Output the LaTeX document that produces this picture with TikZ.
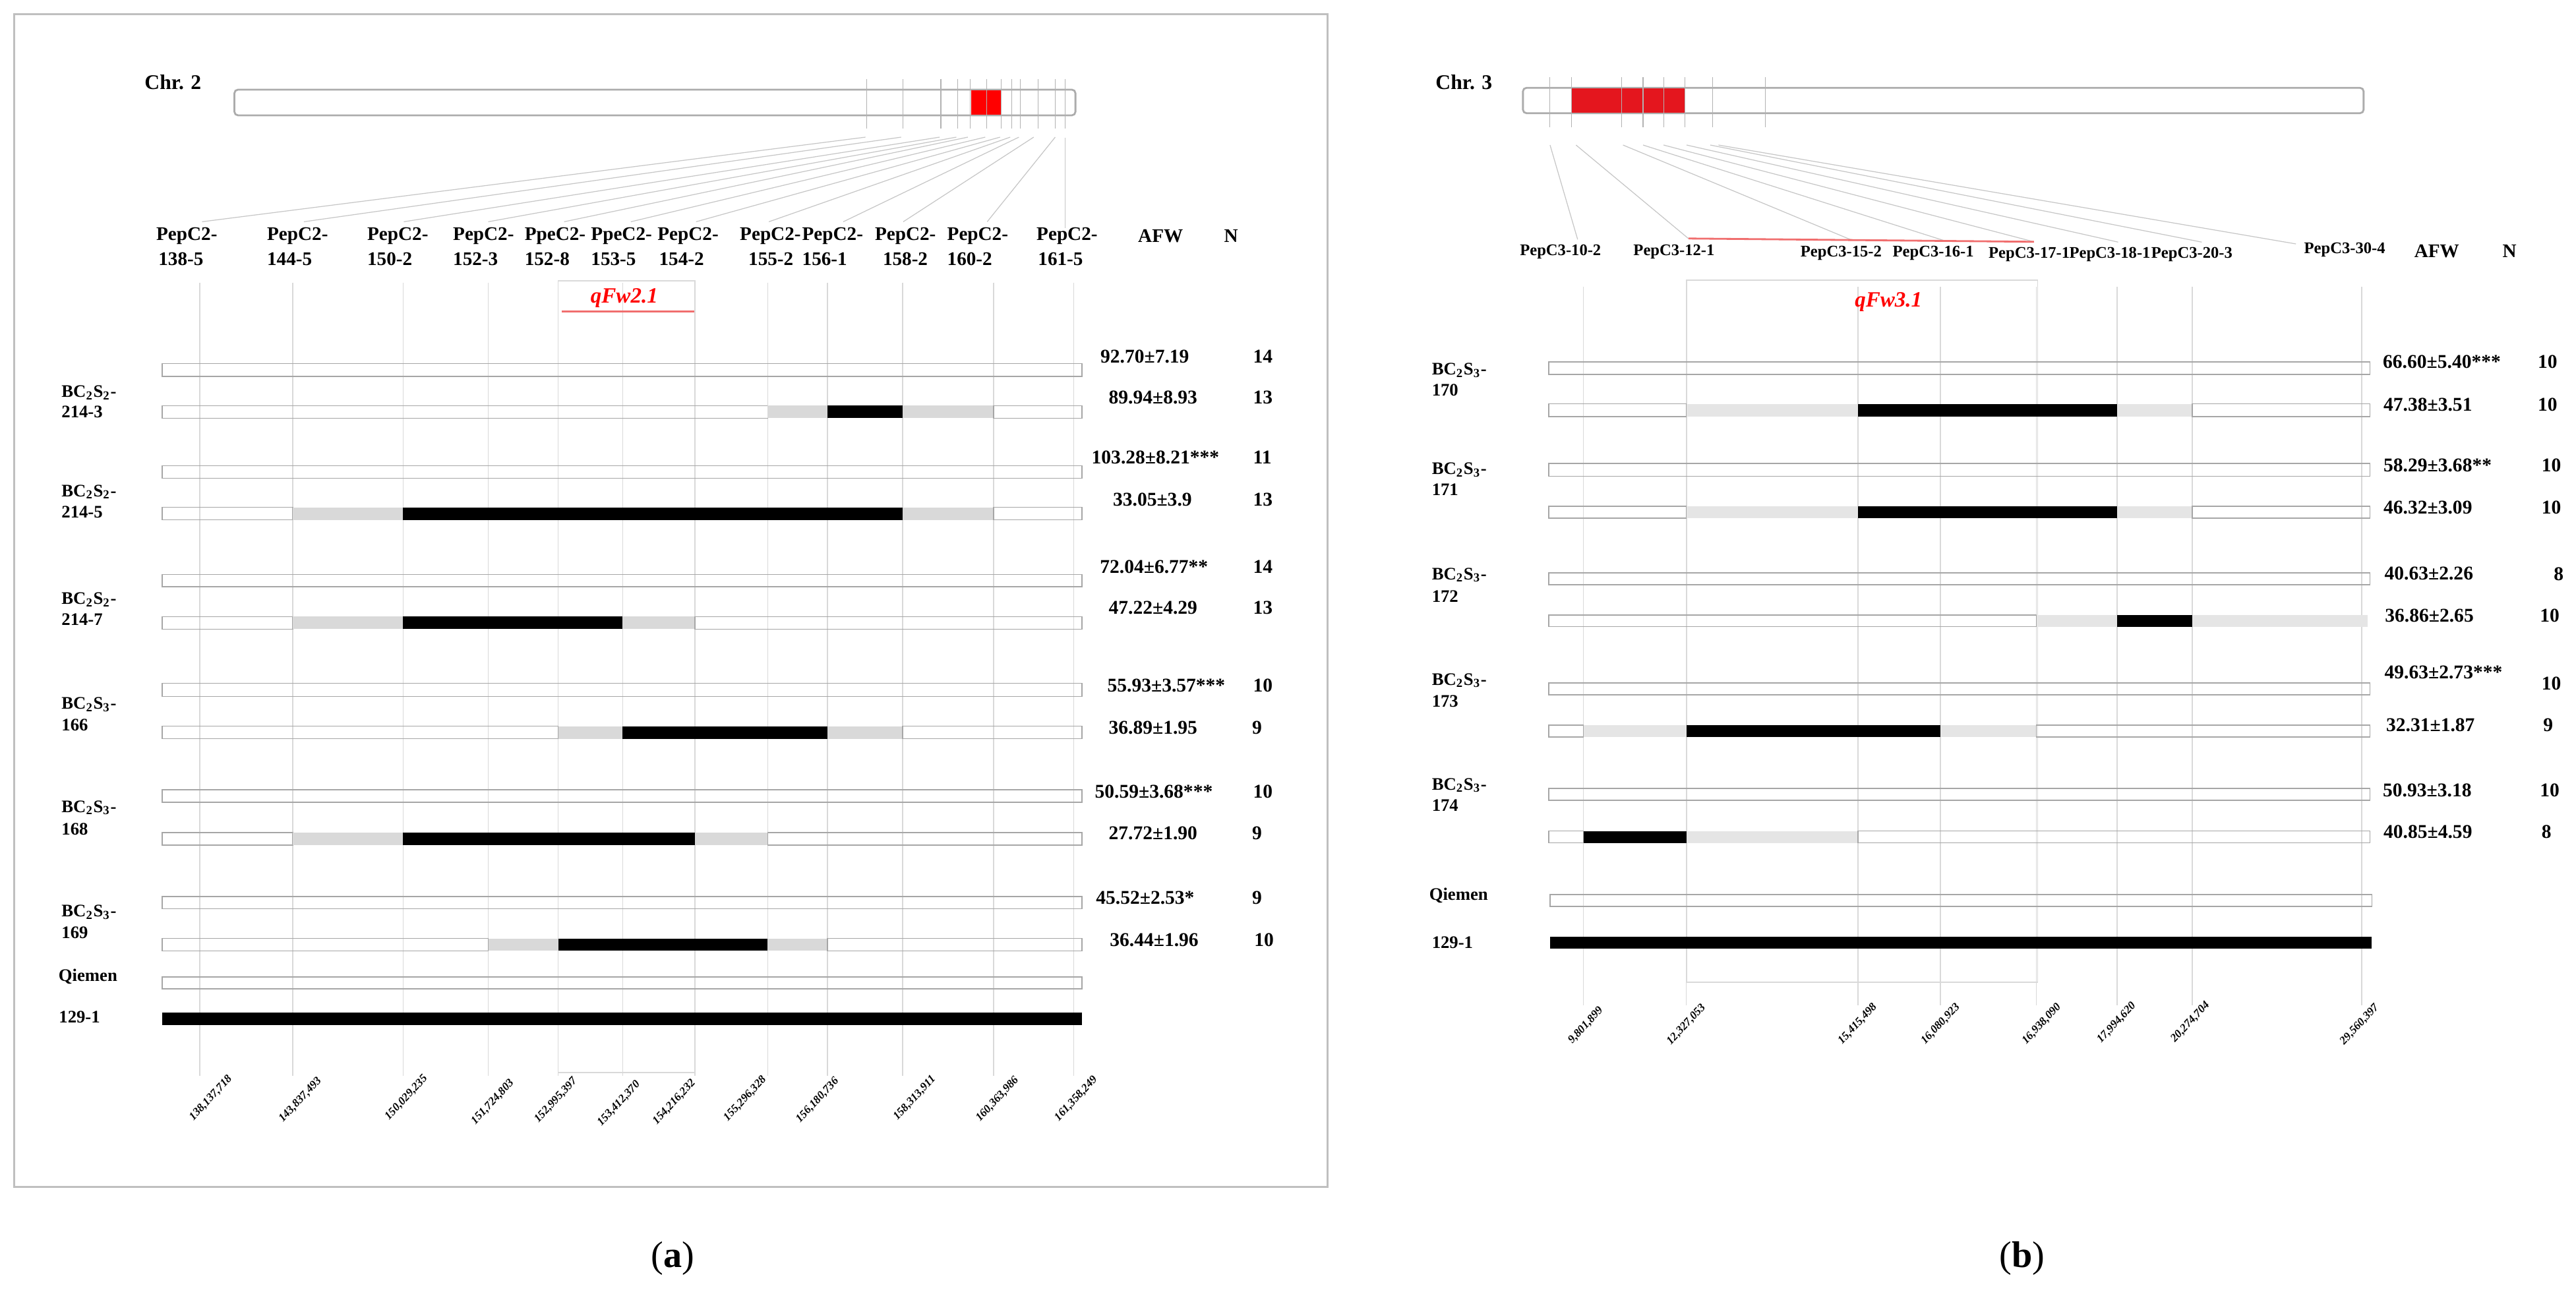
\documentclass[tikz,border=0pt]{standalone}
\usepackage{fontspec}
\setmainfont{Liberation Serif}
\definecolor{qred}{RGB}{240,110,110}
\definecolor{chrred}{RGB}{228,22,30}
\newcommand\segrow[3]{\foreach \xa/\xb/\st in {#3}{\path[\st] (\xa,#1) rectangle (\xb,#2);}}
\newcommand\bcA{BC\textsubscript{2}S\textsubscript{2}-}
\newcommand\bcB{BC\textsubscript{2}S\textsubscript{3}-}
\begin{document}
\begin{tikzpicture}[x=0.024917cm,y=-0.024917cm,
  txtA/.style={inner sep=0pt,anchor=west,font=\bfseries\fontsize{8.3}{10}\selectfont},
  txtB/.style={inner sep=0pt,anchor=west,font=\bfseries\fontsize{7}{8}\selectfont},
  lbl/.style={inner sep=0pt,anchor=west,font=\bfseries\fontsize{7.6}{9}\selectfont},
  val/.style={inner sep=0pt,anchor=west,font=\bfseries\fontsize{8.4}{10}\selectfont},
  posl/.style={inner sep=0pt,rotate=47,font=\bfseries\itshape\fontsize{4.9}{6}\selectfont},
  qtl/.style={inner sep=0pt,text=red,font=\bfseries\itshape\fontsize{9.4}{11}\selectfont},
  chrl/.style={inner sep=0pt,anchor=west,font=\bfseries\fontsize{9}{11}\selectfont},
  capl/.style={inner sep=0pt,font=\fontsize{16}{19}\selectfont},
  gline/.style={draw=gray!30,line width=0.45pt},
  conn/.style={draw=gray!45,line width=0.35pt},
  tickl/.style={draw=gray!60,line width=0.3pt},
  chrom/.style={draw=gray!65,line width=0.8pt,fill=white,rounded corners=1.5pt},
  segW/.style={draw=gray!70,line width=0.45pt},
  segG/.style={fill=gray!30},
  segH/.style={fill=gray!20},
  segK/.style={fill=black},
  qline/.style={draw=qred,line width=0.8pt},
]
\useasboundingbox (0,0) rectangle (1568,790);

% ---------------- panel (a) ----------------
\draw[gray!50,line width=0.8pt] (8.5,8.5) rectangle (808,722.5);

\foreach \x in {121.7,178.2,245.4,297.2,339.8,379.0,423.1,467.3,503.7,549.5,604.7,653.5}
  \draw[gline] (\x,172) -- (\x,655);
\draw[gline] (339.8,171) rectangle (423.1,653);

\node[chrl] (chra) at (87.8,50.2) {Chr. 2};
\draw[chrom] (142.7,54.6) rectangle (654.6,70.2);
\fill[red] (591.2,55) rectangle (609.6,69.8);
\foreach \x in {527.6,549.7,572.7,582.9,590.7,600.5,609.5,615.7,621.0,631.7,642.3,648.4}
  \draw[tickl] (\x,48) -- (\x,78.3);

\foreach \s/\e [count=\i] in {526.8/123,548.5/185,571.9/245.8,582.1/297.2,589.1/343.4,599.7/384,608.7/423.7,614.9/468,620.2/513.3,629.2/549.8,642.3/600.9}{
  \coordinate (sa\i) at (\s,83.5); \coordinate (ea\i) at (\e,135);
  \draw[conn] (sa\i) -- (ea\i);}
\coordinate (sa12) at (648.4,84); \coordinate (ea12) at (648.4,139);
\draw[conn] (sa12) -- (ea12);

\foreach \x/\t/\xx/\u [count=\i] in {94.9/PepC2-/96.2/138-5, 162.3/PepC2-/162.3/144-5, 223.3/PepC2-/223.3/150-2, 275.5/PepC2-/275.5/152-3, 319.1/PpeC2-/319.1/152-8, 359.5/PpeC2-/359.5/153-5, 400.0/PepC2-/400.9/154-2, 450.1/PepC2-/455.3/155-2, 488.0/PepC2-/488.0/156-1, 532.3/PepC2-/537.1/158-2, 576.3/PepC2-/576.3/160-2, 630.7/PepC2-/631.6/161-5}{
  \node[txtA] (ma\i) at (\x,143.8) {\t};
  \node[txtA] (mb\i) at (\xx,157.8) {\u};}
\node[txtA] (afwa) at (692.5,143.8) {AFW};
\node[txtA] (na) at (744.8,143.8) {N};

\coordinate (qa1) at (342,189.7); \coordinate (qa2) at (422.6,189.7);
\draw[qline] (qa1) -- (qa2);
\node[qtl] (qfa) at (380,181.3) {qFw2.1};

\segrow{221.4}{229.2}{98.7/658.5/segW}
\segrow{247.0}{254.6}{98.7/467.3/segW,467.3/503.7/segG,503.7/549.5/segK,549.5/604.7/segG,604.7/658.5/segW}
\segrow{283.6}{291.2}{98.7/658.5/segW}
\segrow{308.9}{316.5}{98.7/178.2/segW,178.2/245.4/segG,245.4/549.5/segK,549.5/604.7/segG,604.7/658.5/segW}
\segrow{349.7}{357.3}{98.7/658.5/segW}
\segrow{375.4}{383.0}{98.7/178.2/segW,178.2/245.4/segG,245.4/379.0/segK,379.0/423.1/segG,423.1/658.5/segW}
\segrow{415.9}{424.0}{98.7/658.5/segW}
\segrow{442.1}{449.7}{98.7/339.8/segW,339.8/379.0/segG,379.0/503.7/segK,503.7/549.5/segG,549.5/658.5/segW}
\segrow{480.9}{488.5}{98.7/658.5/segW}
\segrow{506.9}{514.4}{98.7/178.2/segW,178.2/245.4/segG,245.4/423.1/segK,423.1/467.3/segG,467.3/658.5/segW}
\segrow{545.7}{553.3}{98.7/658.5/segW}
\segrow{571.3}{578.9}{98.7/297.2/segW,297.2/339.8/segG,339.8/467.3/segK,467.3/503.7/segG,503.7/658.5/segW}
\segrow{594.7}{602.0}{98.7/658.5/segW}
\segrow{616.4}{624.0}{98.7/658.5/segK}

\node[lbl] (la1) at (37.2,239.1) {\bcA}; \node[lbl] (lb1) at (37.2,250.7) {214-3};
\node[lbl] (la2) at (37.2,299.5) {\bcA}; \node[lbl] (lb2) at (37.2,311.8) {214-5};
\node[lbl] (la3) at (37.2,365.0) {\bcA}; \node[lbl] (lb3) at (37.2,377.3) {214-7};
\node[lbl] (la4) at (37.2,428.9) {\bcB}; \node[lbl] (lb4) at (37.2,441.2) {166};
\node[lbl] (la5) at (37.2,491.8) {\bcB}; \node[lbl] (lb5) at (37.2,504.7) {168};
\node[lbl] (la6) at (37.2,555.4) {\bcB}; \node[lbl] (lb6) at (37.2,567.7) {169};
\node[lbl] (qma) at (35.4,594.4) {Qiemen};
\node[lbl] (pra) at (35.6,619.3) {129-1};

\foreach \x/\y/\v/\n/\nx [count=\i] in {669.6/217.0/92.70±7.19/14/762.5, 674.6/241.8/89.94±8.93/13/762.5, 664.2/278.4/103.28±8.21***/11/762.5, 677.2/304.0/33.05±3.9/13/762.5, 669.3/345.0/72.04±6.77**/14/762.5, 674.6/370.0/47.22±4.29/13/762.5, 673.8/417.4/55.93±3.57***/10/762.5, 674.6/443.0/36.89±1.95/9/761.9, 666.2/481.9/50.59±3.68***/10/762.5, 674.6/507.4/27.72±1.90/9/761.9, 666.9/546.6/45.52±2.53*/9/761.9, 675.3/572.2/36.44±1.96/10/763.2}{
  \node[val] (va\i) at (\x,\y) {\v};
  \node[val] (nva\i) at (\nx,\y) {\n};}

\foreach \x/\y/\t [count=\i] in {128.3/668.5/{138,137,718}, 182.8/669.6/{143,837,493}, 247.3/668.2/{150,029,235}, 299.9/670.9/{151,724,803}, 338.3/669.8/{152,995,397}, 376.7/671.8/{153,412,370}, 410.4/670.9/{154,216,232}, 453.5/668.9/{155,296,328}, 497.6/669.8/{156,180,736}, 556.7/668.5/{158,313,911}, 607.1/669.2/{160,363,986}, 655.0/668.9/{161,358,249}}
  \node[posl] (pa\i) at (\x,\y) {\t};

\node[capl] (capa) at (409.5,766) {(\textbf{a})};

% ---------------- panel (b) ----------------
\foreach \x in {963.8,1026.4,1130.9,1181.2,1239.5,1288.6,1334.4,1437.6}
  \draw[gline] (\x,174.6) -- (\x,612);
\draw[gline] (1026.7,170.6) rectangle (1240.3,598);

\node[chrl] (chrb) at (873.6,50.2) {Chr. 3};
\draw[chrom] (927.0,53.5) rectangle (1438.7,68.9);
\fill[chrred] (956.7,53.9) rectangle (1025.6,68.5);
\foreach \x in {943.5,956.7,987.2,1000.1,1012.6,1025.6,1042.4,1074.6}
  \draw[tickl] (\x,47.1) -- (\x,77.6);

\foreach \s/\e/\ey [count=\i] in {943.5/960.3/145.8, 959.3/1027.7/145.2, 987.9/1127/146.1, 1000.1/1183.5/146.5, 1012.6/1238/147.2, 1026.6/1289.3/147.4, 1041/1340.2/147.4, 1046/1397.5/148.5}{
  \coordinate (sb\i) at (\s,88.3); \coordinate (eb\i) at (\e,\ey);
  \draw[conn] (sb\i) -- (eb\i);}
\draw[qline] (eb2) -- (eb5);

\foreach \x/\y/\t [count=\i] in {924.9/153.2/PepC3-10-2, 994/153.2/PepC3-12-1, 1095.7/154/PepC3-15-2, 1151.8/154.3/PepC3-16-1, 1210.2/154.8/PepC3-17-1, 1259.3/155/PepC3-18-1, 1309.2/155/PepC3-20-3, 1402.2/152/PepC3-30-4}
  \node[txtB] (mc\i) at (\x,\y) {\t};
\node[txtA] (afwb) at (1469.3,153) {AFW};
\node[txtA] (nb) at (1523,153) {N};

\node[qtl] (qfb) at (1149.5,184) {qFw3.1};

\segrow{220.3}{228.0}{942.7/1442.6/segW}
\segrow{245.9}{253.6}{942.7/1026.4/segW,1026.4/1130.9/segH,1130.9/1288.6/segK,1288.6/1334.4/segH,1334.4/1442.6/segW}
\segrow{282.2}{289.9}{942.7/1442.6/segW}
\segrow{308.3}{315.5}{942.7/1026.4/segW,1026.4/1130.9/segH,1130.9/1288.6/segK,1288.6/1334.4/segH,1334.4/1442.6/segW}
\segrow{348.8}{356.0}{942.7/1442.6/segW}
\segrow{374.4}{381.5}{942.7/1239.5/segW,1239.5/1288.6/segH,1288.6/1334.4/segK,1334.4/1441.1/segH}
\segrow{415.8}{423.0}{942.7/1442.6/segW}
\segrow{441.4}{448.6}{942.7/963.8/segW,963.8/1026.4/segH,1026.4/1181.2/segK,1181.2/1239.5/segH,1239.5/1442.6/segW}
\segrow{480.1}{487.3}{942.7/1442.6/segW}
\segrow{505.9}{513.1}{942.7/963.8/segW,963.8/1026.4/segK,1026.4/1130.9/segH,1130.9/1442.6/segW}
\segrow{544.6}{551.8}{943.5/1443.7/segW}
\segrow{570.2}{577.4}{943.5/1443.7/segK}

\node[lbl] (lc1) at (871.3,225.4) {\bcB}; \node[lbl] (ld1) at (871.3,237.4) {170};
\node[lbl] (lc2) at (871.3,286.1) {\bcB}; \node[lbl] (ld2) at (871.3,298.1) {171};
\node[lbl] (lc3) at (871.3,350.0) {\bcB}; \node[lbl] (ld3) at (871.3,362.9) {172};
\node[lbl] (lc4) at (871.3,414.3) {\bcB}; \node[lbl] (ld4) at (871.3,426.8) {173};
\node[lbl] (lc5) at (871.3,478.0) {\bcB}; \node[lbl] (ld5) at (871.3,490.3) {174};
\node[lbl] (qmb) at (869.7,545.1) {Qiemen};
\node[lbl] (prb) at (871.3,574.0) {129-1};

\foreach \x/\y/\v/\n/\nx/\ny [count=\i] in {1450.2/220.3/66.60±5.40***/10/1544.5/220.3, 1450.6/246.3/47.38±3.51/10/1544.5/246.3, 1450.6/283.2/58.29±3.68**/10/1546.8/283.2, 1450.6/309.0/46.32±3.09/10/1546.8/309.0, 1451.2/349.3/40.63±2.26/8/1554.2/349.3, 1451.5/374.7/36.86±2.65/10/1545.8/374.7, 1451.2/409.2/49.63±2.73***/10/1546.8/416.2, 1452.2/441.5/32.31±1.87/9/1547.8/441.5, 1450.2/481.1/50.93±3.18/10/1545.8/481.1, 1450.6/506.5/40.85±4.59/8/1546.8/506.5}{
  \node[val] (vb\i) at (\x,\y) {\v};
  \node[val] (nvb\i) at (\nx,\ny) {\n};}

\foreach \x/\y/\t [count=\i] in {965.2/624.3/{9,801,899}, 1026.4/623.7/{12,327,053}, 1130.7/623.4/{15,415,498}, 1181.2/623.4/{16,080,923}, 1242.7/623.4/{16,938,090}, 1288.3/622.7/{17,994,620}, 1333.2/622.3/{20,274,704}, 1436.2/623.7/{29,560,397}}
  \node[posl] (pb\i) at (\x,\y) {\t};

\node[capl] (capb) at (1231,766) {(\textbf{b})};
\end{tikzpicture}
\end{document}
